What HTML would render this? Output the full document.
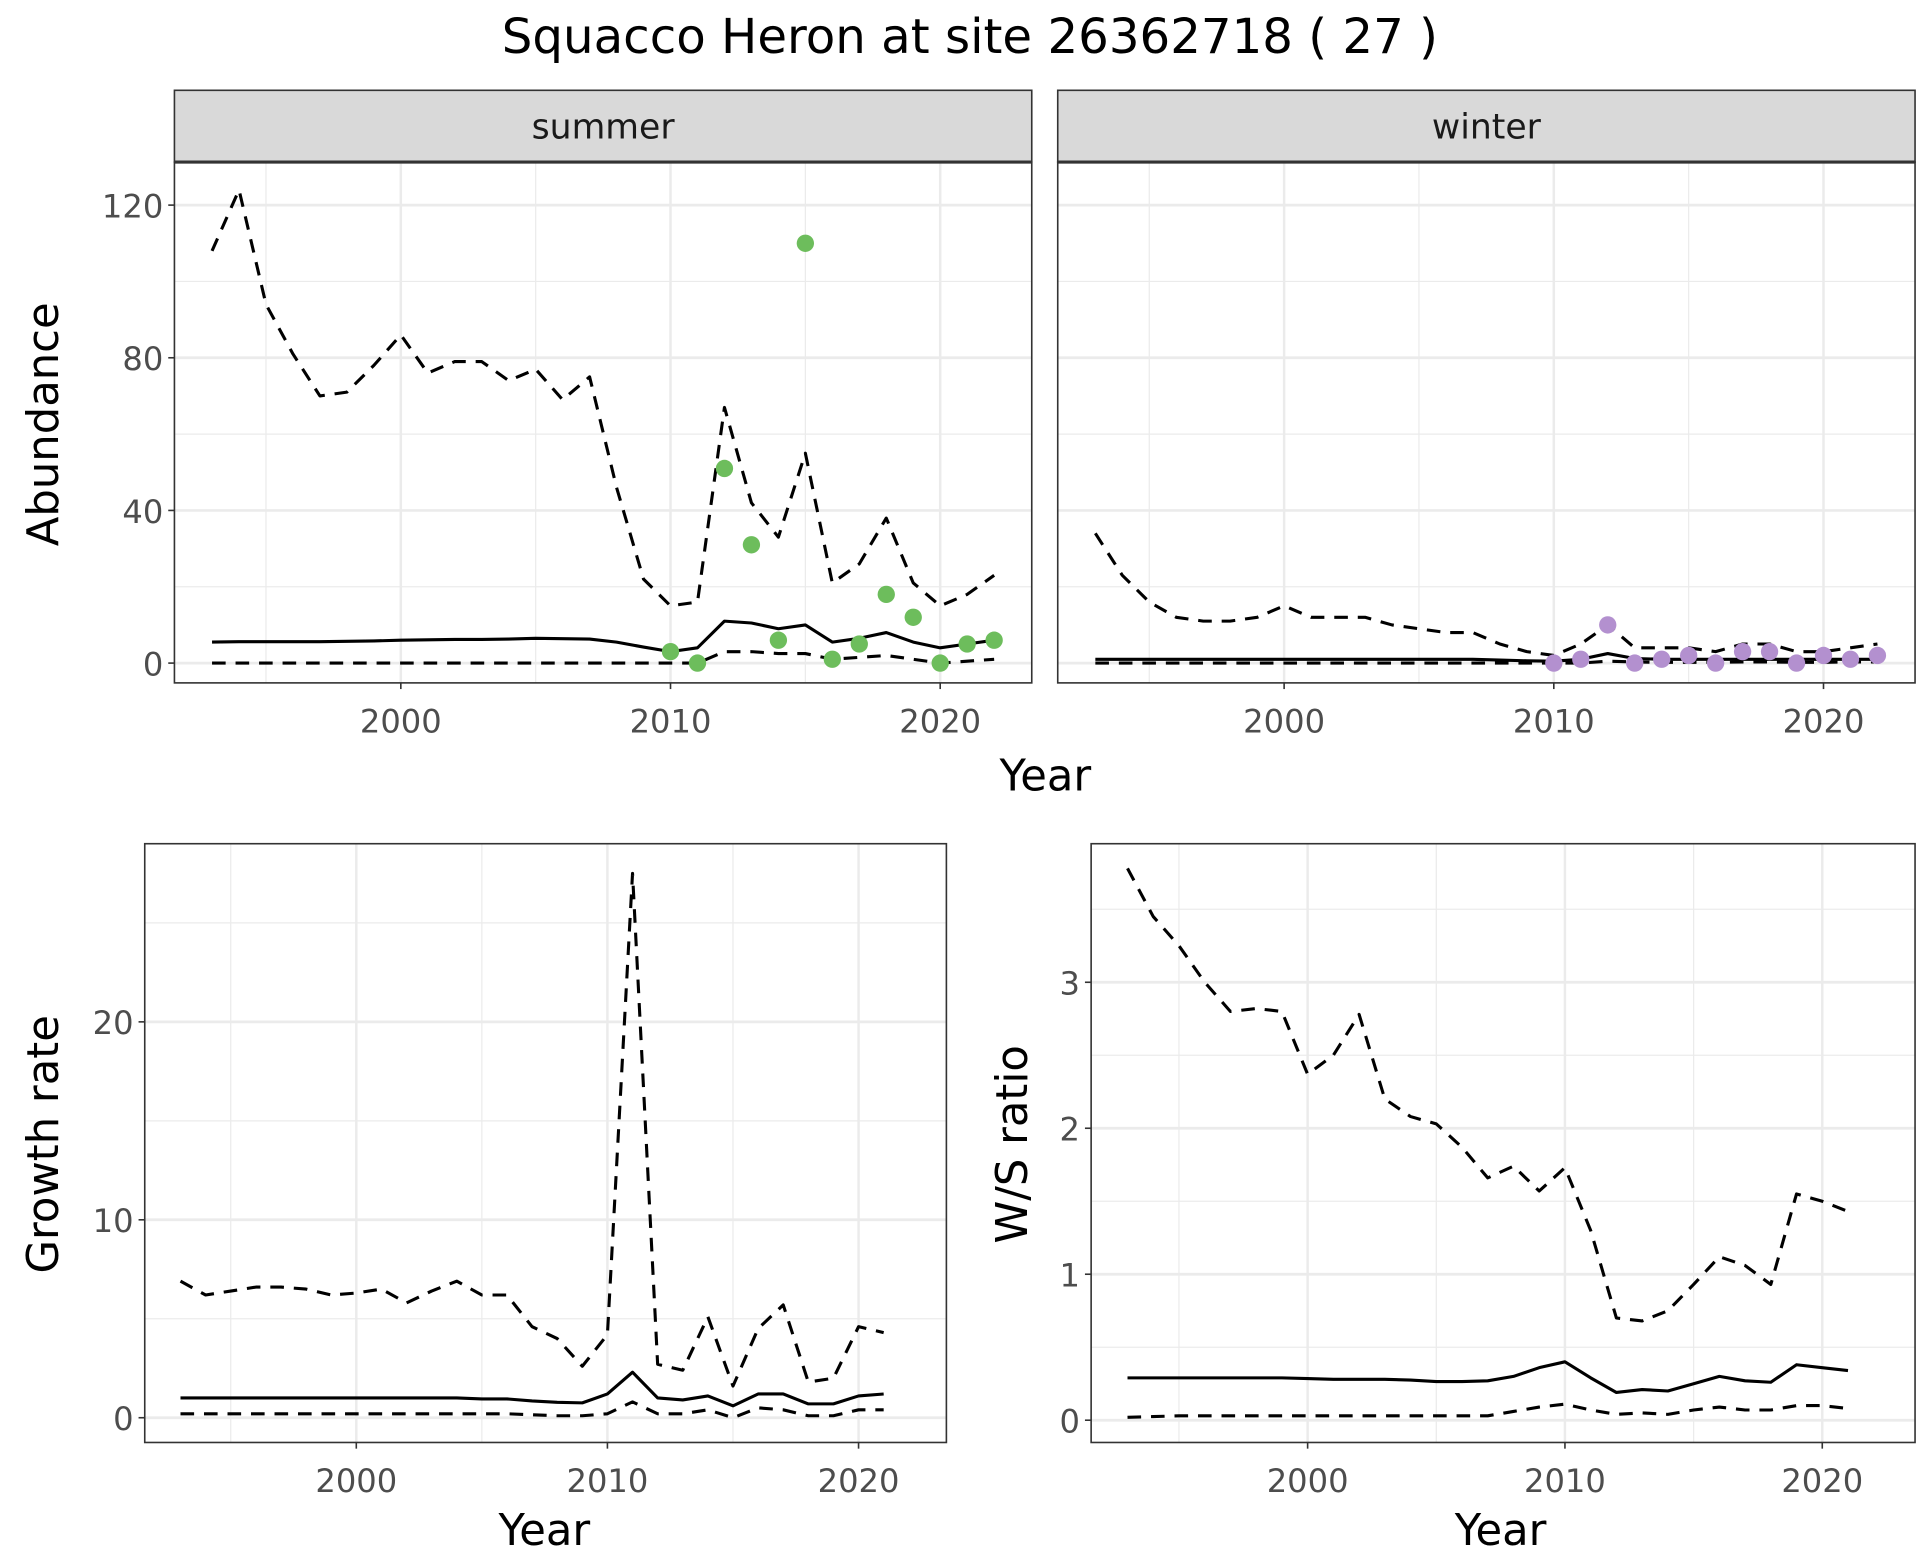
<!DOCTYPE html>
<html><head><meta charset="utf-8"><style>
html,body{margin:0;padding:0;background:#fff;}
svg{display:block;font-family:"DejaVu Sans","Liberation Sans",sans-serif;}
</style></head><body>
<svg id="c" width="1920" height="1560" viewBox="0 0 1552 1261" xmlns="http://www.w3.org/2000/svg">
<text x="784" y="43" font-size="39" text-anchor="middle" fill="#000">Squacco Heron at site 26362718 ( 27 )</text>
</svg>
<script>
const years = [1993,1994,1995,1996,1997,1998,1999,2000,2001,2002,2003,2004,2005,2006,2007,2008,2009,2010,2011,2012,2013,2014,2015,2016,2017,2018,2019,2020,2021,2022];
const sumUpper = [108,124,94,81,70,71,78,86,76,79,79,74,77,69,75,46,22,15,16,67,42,33,55,21,26,38,21,15,18,23];
const sumMean = [5.5,5.6,5.6,5.6,5.6,5.7,5.8,6.0,6.1,6.2,6.2,6.3,6.5,6.4,6.3,5.5,4.2,3,4,11,10.5,9,10,5.5,6.5,8,5.5,4,5,6];
const sumLower = [0,0,0,0,0,0,0,0,0,0,0,0,0,0,0,0,0,0,0,3,3,2.5,2.5,1,1.5,2,1,0,0.5,1];
const ptYears = [2010,2011,2012,2013,2014,2015,2016,2017,2018,2019,2020,2021,2022];
const sumPts = [3,0,51,31,6,110,1,5,18,12,0,5,6];
const winUpper = [34,23,16,12,11,11,12,15,12,12,12,10,9,8,8,5,3,2,5,10,4,4,4,3,5,5,3,3,4,5];
const winMean = [1,1,1,1,1,1,1,1,1,1,1,1,1,1,1,0.8,0.6,0.5,1,2.5,1.2,1,1,1,1,1,1,1,1,1];
const winLower = [0,0,0,0,0,0,0,0,0,0,0,0,0,0,0,0,0,0,0,0.5,0.3,0.2,0.2,0.2,0.3,0.3,0.2,0.2,0.3,0.3];
const winPts = [0,1,10,0,1,2,0,3,3,0,2,1,2];
const grYears = years.slice(0,29);
const grUpper = [6.9,6.2,6.4,6.6,6.6,6.5,6.2,6.3,6.5,5.8,6.4,6.9,6.2,6.2,4.6,4.0,2.6,4.2,27.5,2.7,2.4,5.1,1.6,4.5,5.7,1.8,2.0,4.6,4.3];
const grMean = [1.0,1.0,1.0,1.0,1.0,1.0,1.0,1.0,1.0,1.0,1.0,1.0,0.95,0.95,0.85,0.78,0.75,1.2,2.3,1.0,0.9,1.1,0.6,1.2,1.2,0.7,0.7,1.1,1.2];
const grLower = [0.2,0.2,0.2,0.2,0.2,0.2,0.2,0.2,0.2,0.2,0.2,0.2,0.2,0.2,0.15,0.1,0.1,0.2,0.8,0.2,0.2,0.4,0.0,0.5,0.4,0.1,0.1,0.4,0.4];
const wsUpper = [3.78,3.45,3.25,3.0,2.8,2.82,2.8,2.37,2.5,2.78,2.2,2.08,2.03,1.87,1.66,1.74,1.57,1.73,1.3,0.7,0.68,0.75,0.93,1.12,1.06,0.93,1.55,1.5,1.43];
const wsMean = [0.29,0.29,0.29,0.29,0.29,0.29,0.29,0.285,0.28,0.28,0.28,0.275,0.265,0.265,0.27,0.3,0.36,0.40,0.29,0.19,0.21,0.2,0.25,0.3,0.27,0.26,0.38,0.36,0.34];
const wsLower = [0.02,0.025,0.03,0.03,0.03,0.03,0.03,0.03,0.03,0.03,0.03,0.03,0.03,0.03,0.03,0.06,0.09,0.11,0.07,0.04,0.05,0.04,0.07,0.09,0.07,0.07,0.1,0.1,0.08];
const yearTicks = [2000,2010,2020];
const abTicks = [0,40,80,120];
const grTicks = [0,10,20];
const wsTicks = [0,1,2,3];

const svg = document.getElementById('c');
const NS = 'http://www.w3.org/2000/svg';
function mk(tag, attrs, parent){const e=document.createElementNS(NS,tag);for(const k in attrs)e.setAttribute(k,attrs[k]);(parent||svg).appendChild(e);return e;}

function panel(o){
  const g = mk('g',{});
  
  
  const sx = y => o.x0 + (y-2000)*o.px;
  const sy = v => o.y0 - v*o.py;
  mk('rect',{x:o.l,y:o.t,width:o.r-o.l,height:o.b-o.t,fill:'#fff'},g);
  for(let yr=1995; yr<=2025; yr+=10){const x=sx(yr); if(x>o.l&&x<o.r) mk('line',{x1:x,x2:x,y1:o.t,y2:o.b,stroke:'#ebebeb','stroke-width':1},g);}
  for(let i=0;i<o.ticks.length;i++){const v=o.ticks[i]+o.step/2; const y=sy(v); if(y>o.t&&y<o.b) mk('line',{x1:o.l,x2:o.r,y1:y,y2:y,stroke:'#ebebeb','stroke-width':1},g);}
  yearTicks.forEach(yr=>{const x=sx(yr);mk('line',{x1:x,x2:x,y1:o.t,y2:o.b,stroke:'#ebebeb','stroke-width':2},g);});
  o.ticks.forEach(v=>{const y=sy(v);mk('line',{x1:o.l,x2:o.r,y1:y,y2:y,stroke:'#ebebeb','stroke-width':2.2},g);});
  const line=(xs,vs,dash,name)=>{const p=mk('polyline',{points:xs.map((yr,i)=>sx(yr)+','+sy(vs[i])).join(' '),fill:'none',stroke:'#000','stroke-width':2.5,'stroke-linejoin':'round'},g);if(dash)p.setAttribute('stroke-dasharray','11,8');
    
    };
  line(o.xs,o.upper,true,'upper-bound-line');
  line(o.xs,o.mean,false,'mean-line');
  line(o.xs,o.lower,true,'lower-bound-line');
  if(o.pts){o.pts.forEach((v,i)=>{const c=mk('circle',{cx:sx(ptYears[i]),cy:sy(v),r:7,fill:o.col},g);
    
    });}
  mk('rect',{x:o.l,y:o.t,width:o.r-o.l,height:o.b-o.t,fill:'none',stroke:'#333','stroke-width':1.3},g);
  yearTicks.forEach(yr=>{const x=sx(yr);mk('line',{x1:x,x2:x,y1:o.b,y2:o.b+5,stroke:'#333','stroke-width':1.3},g);
    const t=mk('text',{x:x,y:o.b+40,'font-size':26,'text-anchor':'middle',fill:'#4d4d4d'},g);t.textContent=yr;
    
    });
  if(o.ylabels){o.ticks.forEach(v=>{const y=sy(v);mk('line',{x1:o.l-5,x2:o.l,y1:y,y2:y,stroke:'#333','stroke-width':1.3},g);
    const t=mk('text',{x:o.l-9,y:y+10,'font-size':26,'text-anchor':'end',fill:'#4d4d4d'},g);t.textContent=v;
    
    });}
  if(o.strip){mk('rect',{x:o.l,y:73,width:o.r-o.l,height:o.t-73,fill:'#d9d9d9',stroke:'#333','stroke-width':1.3},g);
    mk('line',{x1:o.l,x2:o.r,y1:o.t,y2:o.t,stroke:'#333','stroke-width':2.5},g);
    const t=mk('text',{x:(o.l+o.r)/2,y:112,'font-size':28,'text-anchor':'middle',fill:'#1a1a1a'},g);t.textContent=o.strip;
    
    }
  return g;
}
function txt(s,x,y,rot,name){const t=mk('text',{x:x,y:y,'font-size':35,'text-anchor':'middle',fill:'#000'});if(rot)t.setAttribute('transform','rotate(-90 '+x+' '+y+')');t.textContent=s;
  
  }

panel({name:'summer-panel',l:141,r:834,t:131,b:552,x0:324,px:21.8,y0:536,py:3.085,ticks:abTicks,step:40,xs:years,upper:sumUpper,mean:sumMean,lower:sumLower,pts:sumPts,col:'#6dbd5c',ylabels:true,strip:'summer'});
panel({name:'winter-panel',l:855,r:1548,t:131,b:552,x0:1038,px:21.8,y0:536,py:3.085,ticks:abTicks,step:40,xs:years,upper:winUpper,mean:winMean,lower:winLower,pts:winPts,col:'#b390cf',ylabels:false,strip:'winter'});
panel({name:'growth-rate-panel',l:117,r:765,t:682,b:1166,x0:288,px:20.3,y0:1146,py:16,ticks:grTicks,step:10,xs:grYears,upper:grUpper,mean:grMean,lower:grLower,ylabels:true});
panel({name:'ws-ratio-panel',l:882,r:1548,t:682,b:1166,x0:1057,px:20.8,y0:1148,py:118,ticks:wsTicks,step:1,xs:grYears,upper:wsUpper,mean:wsMean,lower:wsLower,ylabels:true});
txt('Abundance',47,343,true,'abundance-y-title');
txt('Year',845,639,false,'top-x-title');
txt('Growth rate',47,925,true,'growth-y-title');
txt('Year',440,1249,false,'growth-x-title');
txt('W/S ratio',830,925,true,'ws-y-title');
txt('Year',1213,1249,false,'ws-x-title');
</script>
</body></html>
